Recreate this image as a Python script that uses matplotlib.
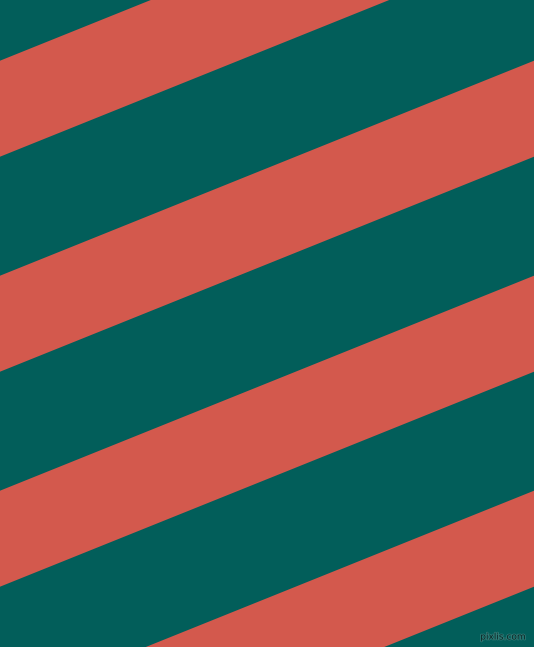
import matplotlib
matplotlib.use("Agg")
import matplotlib.pyplot as plt
import matplotlib.patheffects as pe
import numpy as np

# Stripe data (pixel units, y measured downward from top at the left edge x=0)
stripe_offsets = [-154.3, 60.7, 275.7, 490.7, 705.7]   # top edge of each coral stripe at x=0
stripe_height = 96.0                                      # vertical thickness of a coral stripe
stripe_slope = 0.4026                                     # rise per pixel going right
background_color = "#025E5A"
stripe_color = "#D3594D"
watermark = "pixlis.com"

W, H = 534, 647
fig = plt.figure(figsize=(W / 100, H / 100), dpi=100)
ax = fig.add_axes([0, 0, 1, 1])
ax.set_xlim(0, W)
ax.set_ylim(H, 0)
ax.set_facecolor(background_color)
fig.patch.set_facecolor(background_color)
ax.axis("off")
ax.add_patch(plt.Rectangle((0, 0), W, H, color=background_color, zorder=0))

x = np.array([0, W])
for off in stripe_offsets:
    top = off - stripe_slope * x
    bot = off + stripe_height - stripe_slope * x
    ax.fill_between(x, top, bot, color=stripe_color, linewidth=0, zorder=1)

ax.text(526, 637, watermark, ha="right", va="center", fontsize=6.5,
        color="#0a2624", family="DejaVu Sans", zorder=3,
        path_effects=[pe.withStroke(linewidth=1.2, foreground="#2f7a76")])

fig.savefig("out.png", dpi=100, facecolor=background_color)
